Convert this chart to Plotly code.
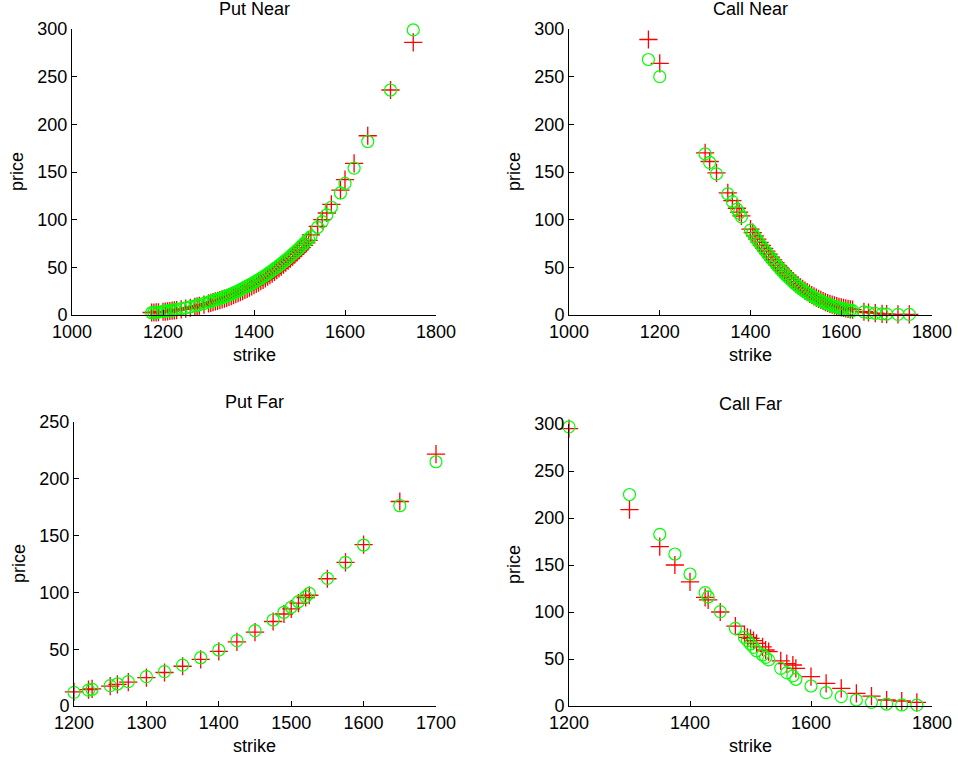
import plotly.graph_objects as go

# ---------------- data ----------------
put_near_strike = [1175,1180,1185,1190,1200,1205,1210,1215,1220,1225,1230,1240,1250,1260,1270,1275,1280,1290,
                   1300,1305,1310,1315,1320,1325,1330,1335,1340,1345,1350,1355,1360,1365,1370,1375,1380,1385,
                   1390,1395,1400,1405,1410,1415,1420,1425,1430,1435,1440,1445,1450,1455,1460,1465,1470,1475,
                   1480,1485,1490,1495,1500,1505,1510,1515,1520,1525,1540,1550,1560,1570,1590,1600,1620,1650,
                   1700,1750]
put_near_model = [2.4,2.6,2.9,3.1,3.7,4.0,4.3,4.7,5.0,5.4,5.8,6.6,7.5,8.5,9.6,10.2,10.8,12.1,
                  13.5,14.2,15.0,15.7,16.5,17.3,18.1,19.0,19.9,20.9,21.9,23.0,24.1,25.2,26.4,27.6,28.9,30.2,
                  31.5,32.8,34.2,35.6,37.0,38.5,40.0,41.6,43.2,44.9,46.6,48.3,50.1,51.9,53.8,55.7,57.7,59.7,
                  61.8,63.9,66.0,68.2,70.4,72.7,75.0,77.4,79.8,82.3,92,98,105,113,128,138,154,182,
                  236,299]
put_near_market = [2.6,2.6,2.7,2.9,3.4,3.6,3.9,4.2,4.5,4.9,5.2,5.9,6.7,7.6,8.6,9.1,9.7,10.9,
                   12.1,12.8,13.5,14.2,14.9,15.6,16.4,17.2,18.0,18.9,19.8,20.8,21.8,22.8,23.9,25.0,26.2,27.4,
                   28.6,29.9,31.2,32.6,34.0,35.4,36.9,38.5,40.1,41.8,43.5,45.2,47.0,48.9,50.8,52.8,54.8,56.9,
                   59.0,61.2,63.5,65.8,68.2,70.6,73.1,75.7,78.3,84.0,93,100,107,116,131,142,159,188,
                   236,286]

call_near_strike = [1175,1200,1300,1310,1325,1350,1360,1370,1375,1380,
                    1400,1405,1410,1415,1420,1425,1430,1435,1440,1445,1450,1455,1460,1465,1470,1475,1480,
                    1485,1490,1495,1500,1505,1510,1515,1520,1525,1530,1535,1540,1545,1550,1555,1560,1565,
                    1570,1575,1580,1585,1590,1595,1600,1605,1610,1615,1620,1625,
                    1650,1660,1675,1690,1700,1725,1750]
call_near_model = [268,250,169,160,148,127,119,111,107,103,
                   89,85.5,82,78.5,75.2,72.0,68.9,65.9,62.8,59.8,56.8,53.9,51.1,48.4,45.8,43.3,40.9,
                   38.6,36.3,34.1,32.0,30.0,28.1,26.3,24.6,23.0,21.5,20.0,18.6,17.3,16.0,14.8,13.7,12.6,
                   11.6,10.7,9.9,9.1,8.3,7.6,7.0,6.4,5.9,5.4,5.0,4.6,
                   3.2,2.5,1.8,1.2,1.0,0.7,0.6]
call_near_market = [289,264,170,161,149,128,120,112,108,104,
                    90,86.5,83,79.5,76.2,73.0,69.9,66.9,63.8,60.8,57.8,54.9,52.1,49.4,46.8,44.3,41.9,
                    39.6,37.3,35.1,33.0,31.0,29.1,27.3,25.6,24.0,22.5,21.0,19.6,18.3,17.0,15.8,14.7,13.6,
                    12.6,11.7,10.9,10.1,9.3,8.6,8.0,7.4,6.9,6.4,6.0,5.6,
                    3.4,2.6,1.9,1.2,1.0,0.7,0.6]

put_far_strike = [1200,1220,1225,1250,1260,1275,1300,1325,1350,1375,1400,1425,1450,1475,1490,1500,1510,
                  1520,1525,1550,1575,1600,1650,1700]
put_far_model = [12,14,14.7,17.9,19.4,21.4,25.8,30.2,36,42.5,49.3,57.5,66.3,75.7,82.5,86.9,91.8,
                 96.2,99.2,112.4,126.5,141.7,176.3,215]
put_far_market = [12.5,14.5,15,17.5,19,21,25,29.5,35,41,48,56.5,65,74.4,81,85.5,90.5,
                  95.5,97.5,112,126.5,142,180,221.8]

call_far_strike = [1200,1300,1350,1375,1400,1425,1430,1450,1475,1490,1495,1500,1505,1510,1520,1525,1530,
                   1550,1560,1570,1575,1600,1625,1650,1675,1700,1725,1750,1775]
call_far_model = [297,225,182.6,161.7,140.4,120.6,116,100.4,82.6,73,69.5,66,62.4,58.8,54.3,51.8,49,
                  40,35.5,32,28.4,21.3,14.2,9.9,6.4,3.9,2.1,1.1,1.0]
call_far_market = [295,209,169.5,150,132,115.6,112.8,100,85,76,73,72,69.5,66.7,63,59.6,57.8,
                   48,45,43.6,40,31.2,24,18.8,13.5,10.6,6.4,5.3,3.9]

titles = ["Put Near", "Call Near", "Put Far", "Call Far"]
x_ranges = [[1000, 1800], [1000, 1800], [1200, 1700], [1200, 1800]]
x_dticks = [200, 200, 100, 200]
y_ranges = [[0, 300], [0, 300], [0, 250], [0, 300]]

# ---------------- figure ----------------
W, H = 958, 762
# axes boxes in pixels: (left, right, top, bottom)
boxes = [(72, 436, 29, 315), (569, 932, 29, 315), (74, 436, 422, 706), (569, 932, 424, 706)]
series = [(put_near_strike, put_near_model, put_near_market),
          (call_near_strike, call_near_model, call_near_market),
          (put_far_strike, put_far_model, put_far_market),
          (call_far_strike, call_far_model, call_far_market)]

FONT = "Liberation Sans, Arial, Helvetica, sans-serif"
fig = go.Figure()
layout = dict(width=W, height=H, autosize=False, margin=dict(l=0, r=0, t=0, b=0, autoexpand=False),
              paper_bgcolor="white", plot_bgcolor="white", showlegend=False,
              font=dict(family=FONT, size=18, color="black"))
annotations = []
for i, ((l, r, t, b), (xs, ym, yk)) in enumerate(zip(boxes, series)):
    n = "" if i == 0 else str(i + 1)
    xa, ya = "x" + n, "y" + n
    fig.add_trace(go.Scatter(x=xs, y=yk, mode="markers", xaxis=xa, yaxis=ya,
                             marker=dict(symbol="cross-thin-open", size=13, color="#ff0000",
                                         line=dict(width=1.3, color="#ff0000")), cliponaxis=False))
    fig.add_trace(go.Scatter(x=xs, y=ym, mode="markers", xaxis=xa, yaxis=ya,
                             marker=dict(symbol="circle-open", size=12, color="#00ff00",
                                         line=dict(width=1.2, color="#00ff00")), cliponaxis=False))
    common = dict(showline=True, linecolor="black", linewidth=1, ticks="inside", ticklen=5,
                  tickcolor="black", showgrid=False, zeroline=False, mirror=False, automargin=False,
                  tickfont=dict(family=FONT, size=18, color="black"))
    layout["xaxis" + n] = dict(domain=[l / W, r / W], range=x_ranges[i], dtick=x_dticks[i],
                               tick0=x_ranges[i][0], anchor=ya, **common)
    layout["yaxis" + n] = dict(domain=[1 - b / H, 1 - t / H], range=y_ranges[i], dtick=50,
                               anchor=xa, **common)
    cx = (l + r) / 2
    annotations.append(dict(text=titles[i], x=cx / W, y=1 - (t - 20) / H, xref="paper", yref="paper",
                            xanchor="center", yanchor="middle", showarrow=False,
                            font=dict(family=FONT, size=18, color="black")))
    annotations.append(dict(text="strike", x=cx / W, y=1 - (b + 40) / H, xref="paper", yref="paper",
                            xanchor="center", yanchor="middle", showarrow=False,
                            font=dict(family=FONT, size=18, color="black")))
    annotations.append(dict(text="price", x=(l - 55) / W, y=1 - ((t + b) / 2) / H, xref="paper",
                            yref="paper", xanchor="center", yanchor="middle", textangle=-90,
                            showarrow=False, font=dict(family=FONT, size=18, color="black")))
layout["annotations"] = annotations
fig.update_layout(**layout)
fig.write_html("out.html")
